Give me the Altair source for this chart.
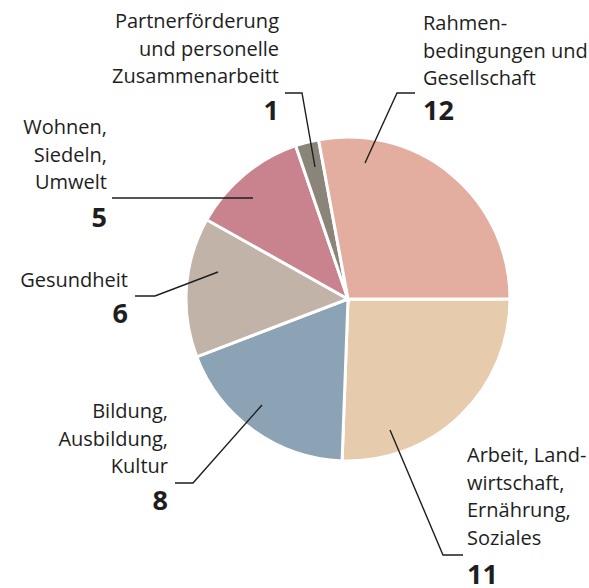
import math
import altair as alt
import pandas as pd

# ---- data ----
categories = ["Arbeit", "Bildung", "Gesundheit", "Wohnen", "Partner", "Rahmen"]
values = [11, 8, 6, 5, 1, 12]
colors = ["#e7cbad", "#8ca2b5", "#c1b3a8", "#c8838f", "#8a8479", "#e3ada0"]
label_lines = [
    ["Arbeit, Land-", "wirtschaft,", "Ernährung,", "Soziales"],
    ["Bildung,", "Ausbildung,", "Kultur"],
    ["Gesundheit"],
    ["Wohnen,", "Siedeln,", "Umwelt"],
    ["Partnerförderung", "und personelle", "Zusammenarbeitt"],
    ["Rahmen-", "bedingungen und", "Gesellschaft"],
]

# ---- layout (pixels) ----
W, H = 589, 588
CX, CY, R = 348, 299, 162
LINE_H = 27.5
FONT = "Open Sans"
# text anchor: x, first baseline y, align, number baseline y
text_anchor = {
    "Arbeit": (467, 462, "left", 584),
    "Bildung": (168, 418, "right", 510),
    "Gesundheit": (128, 287, "right", 323),
    "Wohnen": (107, 134, "right", 227),
    "Partner": (279, 28, "right", 120),
    "Rahmen": (423, 30, "left", 120),
}
leader = {
    "Arbeit": [(390, 430), (443, 555), (463, 555)],
    "Bildung": [(262, 405), (193, 483), (175, 483)],
    "Gesundheit": [(218, 272), (155, 296), (135, 296)],
    "Wohnen": [(253, 198), (112, 198)],
    "Partner": [(315, 167), (302, 93), (285, 93)],
    "Rahmen": [(365, 163), (397, 93), (415, 93)],
}

pie_df = pd.DataFrame({"cat": categories, "value": values, "idx": range(len(categories))})

rows = []
for cat, lines, v in zip(categories, label_lines, values):
    x, y0, al, ny = text_anchor[cat]
    for i, t in enumerate(lines):
        rows.append({"cat": cat, "x": x, "y": y0 + i * LINE_H, "t": t, "align": al, "kind": "label"})
    rows.append({"cat": cat, "x": x, "y": ny, "t": str(v), "align": al, "kind": "num"})
txt_df = pd.DataFrame(rows)

lrows = []
for cat, pts in leader.items():
    for i, (x, y) in enumerate(pts):
        lrows.append({"cat": cat, "i": i, "x": x, "y": y})
line_df = pd.DataFrame(lrows)

xs = alt.Scale(domain=[0, W], range=[0, W])
ys = alt.Scale(domain=[0, H], range=[0, H])

pie = alt.Chart(pie_df).mark_arc(radius=R, stroke="white", strokeWidth=3).encode(
    theta=alt.Theta("value:Q", stack=True,
                    scale=alt.Scale(range=[math.pi / 2, math.pi / 2 + 2 * math.pi])),
    color=alt.Color("cat:N", scale=alt.Scale(domain=categories, range=colors), legend=None),
    order=alt.Order("idx:Q"),
    x=alt.value(CX),
    y=alt.value(CY),
)

lines = alt.Chart(line_df).mark_line(color="#1e1e1e", strokeWidth=1.4).encode(
    x=alt.X("x:Q", scale=xs, axis=None),
    y=alt.Y("y:Q", scale=ys, axis=None),
    detail="cat:N",
    order="i:Q",
)

def text_layer(kind, align, size, weight):
    return alt.Chart(txt_df).transform_filter(
        (alt.datum.kind == kind) & (alt.datum.align == align)
    ).mark_text(align=align, baseline="alphabetic", font=FONT, fontSize=size,
                fontWeight=weight, color="#1e1e1e").encode(
        x=alt.X("x:Q", scale=xs, axis=None),
        y=alt.Y("y:Q", scale=ys, axis=None),
        text="t:N",
    )

chart = alt.layer(
    pie, lines,
    text_layer("label", "left", 20, "normal"),
    text_layer("label", "right", 20, "normal"),
    text_layer("num", "left", 27, "bold"),
    text_layer("num", "right", 27, "bold"),
).properties(width=W, height=H, padding=0, autosize="none").configure_view(stroke=None)

chart.save("out.html", embed_options={"renderer": "svg", "actions": False})
